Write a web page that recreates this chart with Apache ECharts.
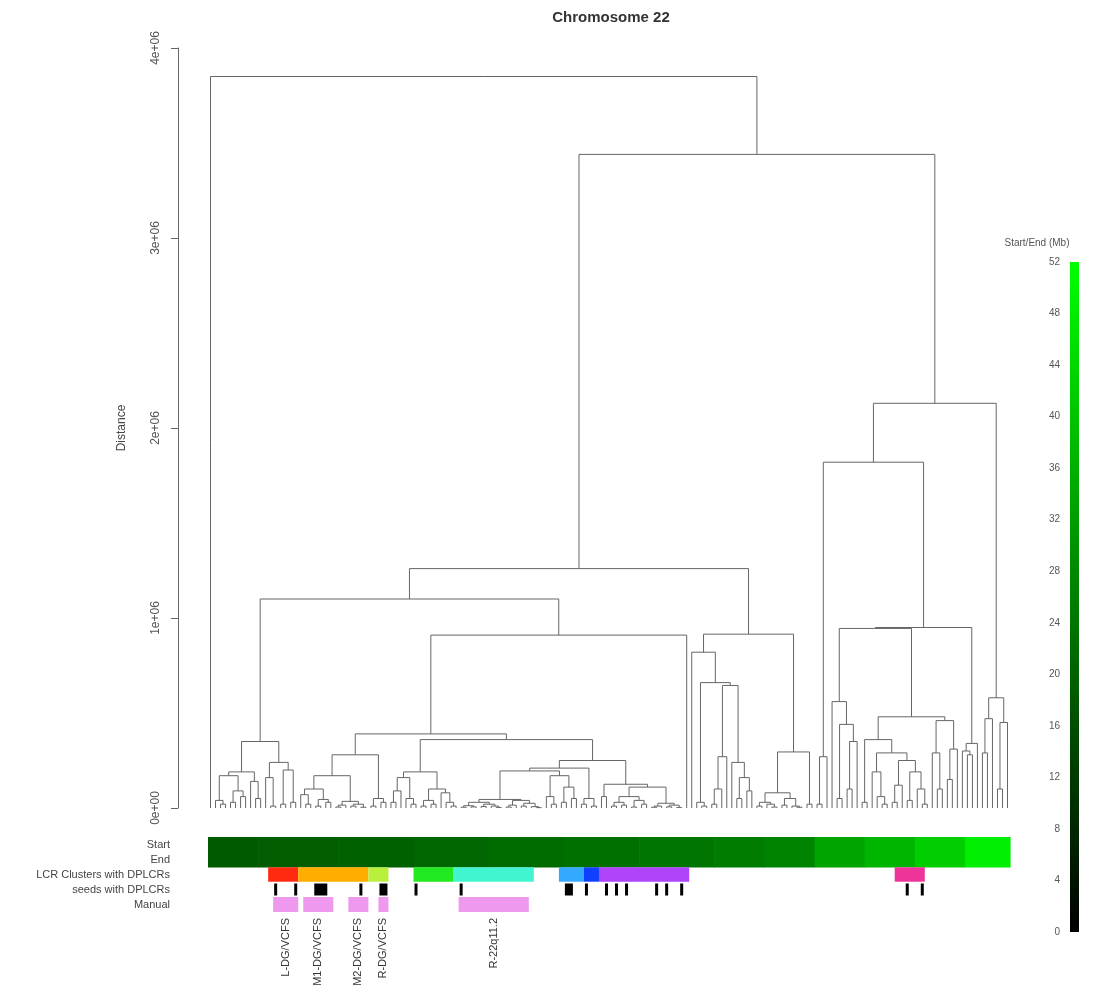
<!DOCTYPE html>
<html>
<head>
<meta charset="utf-8">
<script src="https://cdn.jsdelivr.net/npm/echarts@6/dist/echarts.min.js"></script>
<style>html,body{margin:0;padding:0;background:#fff;}#chart{width:1093px;height:999px;}</style>
</head>
<body>
<div id="chart"></div>
<script>
// ---------- DATA ----------
// Dendrogram: internal node = [height (x1e6), left, right]; leaf = L
const L = 0;
const blockALL = [0.35,
  [0.19, [0.17, [0.04, L, [0.02, L, L]], [0.09, [0.03, L, L], [0.06, L, L]]], [0.14, L, [0.05, L, L]]],
  [0.24, [0.16, L, [0.01, L, L]], [0.2, [0.02, L, L], [0.03, L, L]]]];
const blockS357 = [0.28,
  [0.17,
    [0.1, [0.07, L, [0.02, L, L]], [0.045, [0.01, L, L], [0.03, L, L]]],
    [0.035, [0.015, [0.005, L, L], L], [0.02, [0.01, L, L], [0.004, L, L]]]],
  [0.05, [0.01, L, L], [0.03, L, L]]];
const blockS419 = [0.19,
  [0.16, [0.09, [0.03, L, L], L], [0.05, L, [0.02, L, L]]],
  [0.1, [0.04, [0.01, L, L], [0.02, L, L]], [0.08, L, [0.03, L, [0.01, L, L]]]]];
const blockS591 = [0.25,
  [0.21,
    [0.195,
      [0.045,
        [0.03, [0.012, [0.004, L, L], [0.006, L, L]], [0.02, [0.008, L, L], [0.01, L, [0.003, L, L]]]],
        [0.04, [0.015, [0.005, L, L], L], [0.025, [0.01, L, L], [0.007, L, [0.002, L, L]]]]],
      [0.17, [0.06, L, [0.02, L, L]], [0.11, [0.03, L, L], [0.05, L, L]]]],
    [0.05, [0.02, L, L], [0.01, L, L]]],
  [0.125,
    [0.06, L, L],
    [0.11,
      [0.06, [0.03, [0.01, L, L], [0.015, L, L]], [0.04, [0.005, L, L], [0.02, L, L]]],
      [0.025, [0.01, [0.004, L, L], L], [0.015, [0.006, L, L], [0.003, L, L]]]]]];
const blockAR = [0.915,
  [0.82, L, [0.66, [0.03, L, [0.01, L, L]],
    [0.645, [0.27, [0.1, [0.02, L, L], L], L], [0.24, L, [0.16, [0.05, L, L], [0.09, L, L]]]]]],
  [0.295,
    [0.08, [0.03, [0.01, L, L], [0.02, L, [0.005, L, L]]], [0.05, [0.015, L, L], [0.01, L, [0.004, L, L]]]],
    [0.02, L, L]]];
const blockAL = [1.10, blockALL, [0.91, [0.39, blockS357, [0.36, blockS419, blockS591]], L]];
const blockA = [1.26, blockAL, blockAR];
const blockB = [2.13,
  [1.82,
    [0.27, [0.02, L, L], L],
    [0.95,
      [0.945,
        [0.56, L, [0.44, [0.05, L, L], [0.35, [0.1, L, L], L]]],
        [0.48,
          [0.36, [0.03, L, L], [0.29, [0.19, L, [0.06, L, [0.02, L, L]]],
            [0.25, [0.12, [0.03, L, L], L], [0.19, [0.04, L, L], [0.1, L, [0.02, L, L]]]]]],
          [0.46, [0.29, L, [0.1, L, L]], [0.31, [0.15, L, L], L]]]],
      [0.34, [0.3, L, [0.28, L, L]], L]]],
  [0.58, [0.47, [0.29, L, L], L], [0.45, [0.1, L, L], L]]];
const tree = [3.85, L, [3.44, blockA, blockB]];

const yTicks = [0, 1, 2, 3, 4];
const trackNames = ['Start', 'End', 'LCR Clusters with DPLCRs', 'seeds with DPLCRs', 'Manual'];

// Start/End position (Mb) of leaves, by runs of leaves
const bandFrom = [0, 10, 26, 41, 56, 71, 86, 101, 111, 121, 131, 141, 151];
const bandTo   = [9, 25, 40, 55, 70, 85, 100, 110, 120, 130, 140, 150, 159];
const bandMb   = [18.4, 19.0, 19.8, 21.0, 22.0, 22.8, 24.0, 25.2, 27.0, 33.5, 37.0, 42.0, 48.5];

// LCR clusters with DPLCRs (leaf ranges)
const lcrFrom = [12, 18, 32, 41, 49, 70, 75, 78, 137];
const lcrTo   = [17, 31, 35, 48, 64, 74, 77, 95, 142];
const lcrPalette = ['#ff2a10', '#ffae00', '#b8f03c', '#22ea22', '#40f5d0', '#33aaff', '#1040ff', '#b044fa', '#ee3399'];

// seeds with DPLCRs (leaf ranges)
const seedFrom = [13, 17, 21, 30, 34, 41, 50, 71, 75, 79, 81, 83, 89, 91, 94, 139, 142];
const seedTo   = [13, 17, 23, 30, 35, 41, 50, 72, 75, 79, 81, 83, 89, 91, 94, 139, 142];

// Manual annotation (leaf ranges)
const manualFrom = [13, 19, 28, 34, 50];
const manualTo   = [17, 24, 31, 35, 63];
const manualLabels = ['L-DG/VCFS', 'M1-DG/VCFS', 'M2-DG/VCFS', 'R-DG/VCFS', 'R-22q11.2'];

const legendMax = 52;

// ---------- LAYOUT OF DENDROGRAM (leaf order) ----------
let leafCount = 0;
const segs = [];
function layout(node) {
  if (!Array.isArray(node)) { return { x: leafCount++, y: 0 }; }
  const a = layout(node[1]);
  const b = layout(node[2]);
  segs.push([a.x, a.y, b.x, b.y, node[0]]);
  return { x: (a.x + b.x) / 2, y: node[0] };
}
layout(tree);
const N = leafCount;

function mbColor(v) {
  const g = Math.round(Math.max(0, Math.min(1, v / legendMax)) * 255);
  return 'rgb(0,' + g + ',0)';
}

const startEndData = [];
for (let r = 0; r < 2; r++) {
  for (let k = 0; k < bandFrom.length; k++) startEndData.push([bandFrom[k], bandTo[k], r, bandMb[k]]);
}
const lcrData = lcrFrom.map((f, k) => [f, lcrTo[k], 2, k]);
const seedData = seedFrom.map((f, k) => [f, seedTo[k], 3]);
const manualData = manualFrom.map((f, k) => [f, manualTo[k], 4, k]);

function rowRect(api, from, to, row, hFrac) {
  const c0 = api.coord([from, row]);
  const c1 = api.coord([to, row]);
  const h = api.size([0, 1])[1] * hFrac;
  return { x: c0[0], y: c0[1] - h / 2, width: c1[0] - c0[0], height: h };
}

const chart = echarts.init(document.getElementById('chart'), null, { renderer: 'canvas' });
const font = 'Liberation Sans, Arial, sans-serif';
const option = {
  animation: false,
  backgroundColor: '#ffffff',
  textStyle: { fontFamily: font },
  title: [
    { text: 'Chromosome 22', left: 611, top: 10, textAlign: 'center', padding: 0,
      textStyle: { fontSize: 15, fontWeight: 'bold', color: '#333', fontFamily: font } },
    { text: 'Start/End (Mb)', left: 1037, top: 238, textAlign: 'center', padding: 0,
      textStyle: { fontSize: 10, fontWeight: 'normal', color: '#555', fontFamily: font } }
  ],
  grid: [
    { left: 208, top: 48, width: 802, height: 760 },
    { left: 208, top: 837, width: 802, height: 75 },
    { left: 1070, top: 262, width: 9, height: 670 }
  ],
  xAxis: [
    { gridIndex: 0, type: 'value', min: -0.5, max: N - 0.5, show: false },
    { gridIndex: 1, type: 'value', min: -0.5, max: N - 0.5, show: false },
    { gridIndex: 2, type: 'category', data: ['Mb'], show: false }
  ],
  yAxis: [
    { gridIndex: 0, type: 'value', min: yTicks[0], max: yTicks[yTicks.length - 1], interval: 1, offset: 30,
      name: 'Distance', nameLocation: 'middle', nameGap: 50,
      nameTextStyle: { fontSize: 12, color: '#444', fontFamily: font },
      axisLine: { show: true, onZero: false, lineStyle: { color: '#666', width: 1 } },
      axisTick: { show: true, length: 7, lineStyle: { color: '#666' } },
      splitLine: { show: false },
      axisLabel: { rotate: 90, margin: 16, fontSize: 12, color: '#555', fontFamily: font,
        formatter: v => v === 0 ? '0e+00' : v + 'e+06' } },
    { gridIndex: 1, type: 'category', data: trackNames, inverse: true,
      axisLine: { show: false }, axisTick: { show: false }, splitLine: { show: false },
      axisLabel: { margin: 38, fontSize: 11, color: '#444', interval: 0, fontFamily: font } },
    { gridIndex: 2, type: 'value', min: 0, max: legendMax, interval: 4,
      axisLine: { show: false }, axisTick: { show: false }, splitLine: { show: false },
      axisLabel: { margin: 10, fontSize: 10, color: '#555', fontFamily: font } }
  ],
  series: [
    { type: 'custom', name: 'dendrogram', xAxisIndex: 0, yAxisIndex: 0, data: segs, clip: false,
      renderItem: (params, api) => {
        const p1 = api.coord([api.value(0), api.value(1)]);
        const p2 = api.coord([api.value(0), api.value(4)]);
        const p3 = api.coord([api.value(2), api.value(4)]);
        const p4 = api.coord([api.value(2), api.value(3)]);
        return { type: 'polyline', shape: { points: [p1, p2, p3, p4] },
          style: { stroke: '#666', lineWidth: 1, fill: null } };
      } },
    { type: 'custom', name: 'startEnd', xAxisIndex: 1, yAxisIndex: 1, data: startEndData,
      renderItem: (params, api) => {
        const r = rowRect(api, api.value(0) - 0.5, api.value(1) + 0.5, api.value(2), 1);
        const c = mbColor(api.value(3));
        return { type: 'rect', shape: { x: r.x, y: r.y, width: r.width + 0.6, height: r.height + 0.6 },
          style: { fill: c } };
      } },
    { type: 'custom', name: 'lcr', xAxisIndex: 1, yAxisIndex: 1, data: lcrData,
      renderItem: (params, api) => {
        const r = rowRect(api, api.value(0) - 0.5, api.value(1) + 0.5, api.value(2), 0.96);
        return { type: 'rect', shape: r, style: { fill: lcrPalette[api.value(3)] } };
      } },
    { type: 'custom', name: 'seeds', xAxisIndex: 1, yAxisIndex: 1, data: seedData,
      renderItem: (params, api) => {
        const r = rowRect(api, api.value(0) - 0.3, api.value(1) + 0.3, api.value(2), 0.8);
        return { type: 'rect', shape: r, style: { fill: '#000' } };
      } },
    { type: 'custom', name: 'manual', xAxisIndex: 1, yAxisIndex: 1, data: manualData,
      renderItem: (params, api) => {
        const r = rowRect(api, api.value(0) - 0.5, api.value(1) + 0.5, api.value(2), 1);
        const cx = r.x + r.width / 2;
        return { type: 'group', children: [
          { type: 'rect', shape: r, style: { fill: '#ee99ee' } },
          { type: 'text', x: cx, y: r.y + r.height + 6, rotation: Math.PI / 2,
            style: { text: manualLabels[api.value(3)], align: 'right', verticalAlign: 'middle',
              fontSize: 11, fill: '#333', fontFamily: font } }
        ] };
      } },
    { type: 'bar', name: 'legend', xAxisIndex: 2, yAxisIndex: 2, data: [legendMax], barWidth: '100%',
      itemStyle: { color: new echarts.graphic.LinearGradient(0, 1, 0, 0, [
        { offset: 0, color: '#000000' }, { offset: 1, color: '#00ff00' }]) } }
  ]
};
chart.setOption(option);
</script>
</body>
</html>
